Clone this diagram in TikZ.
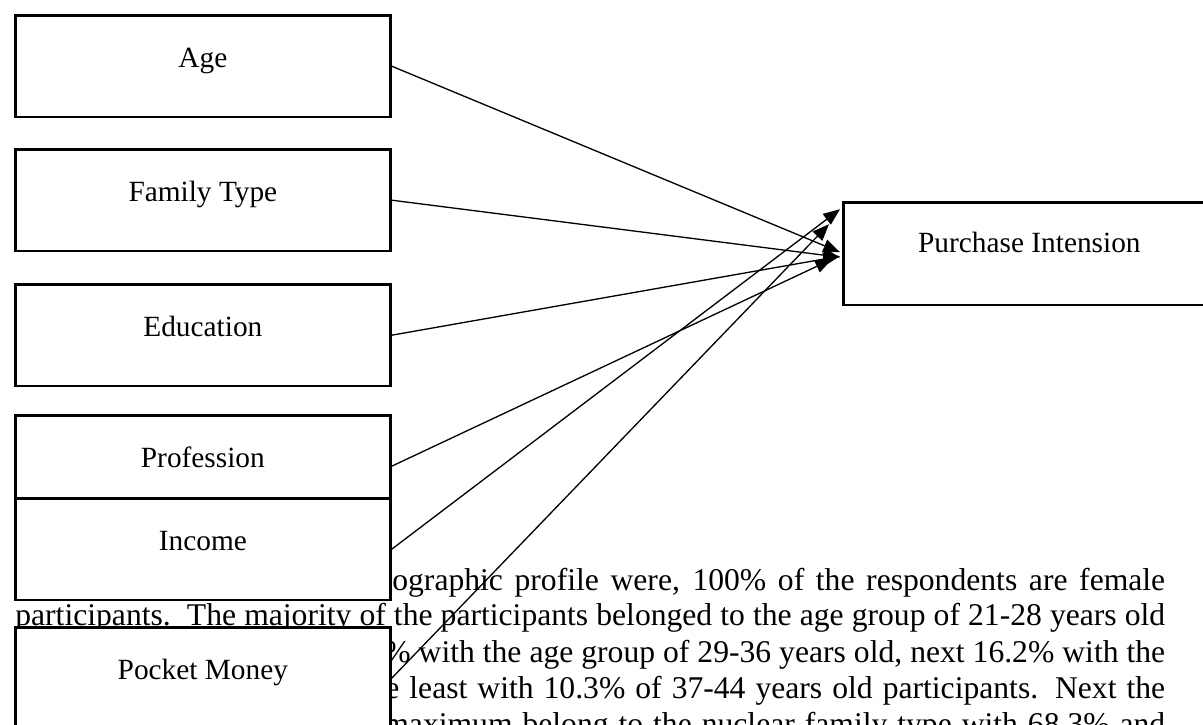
\documentclass[tikz,border=0pt]{standalone}
\usepackage{fontspec}
\setmainfont{Liberation Serif}
\usetikzlibrary{arrows.meta}

\begin{document}
\begin{tikzpicture}[ % one unit is one pixel of the page, y runs down
x=0.02cm, y=-0.02cm,
factor/.style={rectangle, draw=black, fill=white, line width=1.6pt, inner sep=0pt, anchor=north west, minimum width=7.5cm, text height=29.8pt, text depth=28pt, font=\fontsize{16.7}{20}\selectfont},
outcome/.style={factor, minimum width=7.44cm, text height=28.4pt, text depth=30pt},
out_arrow/.style={-{Triangle[length=9.5pt, width=7.5pt]}, line width=0.75pt},
body_line/.style={anchor=base west, inner sep=0pt, font=\fontsize{18}{21}\selectfont}
]
\useasboundingbox (0,0) rectangle (1203,724);

% page text behind the figure
\node[body_line](line_one) at (392,590) {\makebox[15.46cm][s]{ographic profile were, 100\% of the respondents are female}};
\node[body_line](line_two) at (15,625) {\makebox[23cm][s]{participants.\ \ The majority of the participants belonged to the age group of 21-28 years old}};
\node[body_line](line_three) at (384,662) {\makebox[15.62cm][s]{\% with the age group of 29-36 years old, next 16.2\% with the}};
\node[body_line](line_four) at (385,698) {\makebox[15.6cm][s]{e least with 10.3\% of 37-44 years old participants. Next the}};
\node[body_line](line_five) at (384,734) {\makebox[15.62cm][s]{maximum belong to the nuclear family type with 68.3\% and}};

\node[factor](age) at (14,14) {Age};
\node[factor](family_type) at (14,148) {Family Type};
\node[factor](education) at (14,283) {Education};
\node[factor](profession) at (14,414) {Profession};
\node[factor](income) at (14,497) {Income};
\node[factor](pocket_money) at (14,626) {Pocket Money};

\node[outcome](purchase) at (842,201) {Purchase Intension};

\draw[out_arrow](age.east) -- ([shift={(-2,-1.5)}]purchase.west);
\draw[out_arrow](family_type.east) -- ([shift={(-2,3.5)}]purchase.west);
\draw[out_arrow](education.east) -- ([shift={(-2,2.5)}]purchase.west);
\draw[out_arrow](profession.east) -- ([shift={(-10,5.5)}]purchase.west);
\draw[out_arrow](income.east) -- ([shift={(-2,-44.5)}]purchase.west);
\draw[out_arrow](pocket_money.east) -- ([shift={(-13,-29.5)}]purchase.west);
\end{tikzpicture}
\end{document}
